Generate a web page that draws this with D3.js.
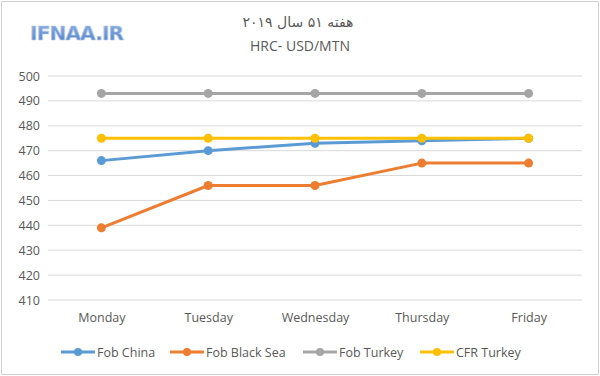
<!DOCTYPE html>
<html>
<head>
<meta charset="utf-8">
<script src="https://cdn.jsdelivr.net/npm/d3@7"></script>
<style>
  body { margin: 0; background: #fff; }
  svg text { font-family: "Open Sans", "DejaVu Sans", sans-serif; fill: #595959; }
</style>
</head>
<body>
<div id="chart"></div>
<script>
const WIDTH = 600
const HEIGHT = 376

const days = ['Monday', 'Tuesday', 'Wednesday', 'Thursday', 'Friday']
const yTicks = [410, 420, 430, 440, 450, 460, 470, 480, 490, 500]
const seriesNames = ['Fob China', 'Fob Black Sea', 'Fob Turkey', 'CFR Turkey']
const seriesColors = ['#5b9bd5', '#ed7d31', '#a5a5a5', '#ffc000']
const fobChina = [466, 470, 473, 474, 475]
const fobBlackSea = [439, 456, 456, 465, 465]
const fobTurkey = [493, 493, 493, 493, 493]
const cfrTurkey = [475, 475, 475, 475, 475]

const seriesValues = [fobChina, fobBlackSea, fobTurkey, cfrTurkey]
const series = seriesNames.map((name, i) => ({ name, color: seriesColors[i], values: seriesValues[i] }))

const svg = d3.select('#chart')
  .append('svg')
  .attr('width', WIDTH)
  .attr('height', HEIGHT)

// logo gradient
const grad = svg.append('defs')
  .append('linearGradient')
  .attr('id', 'logoGrad')
  .attr('x1', 0).attr('y1', 0).attr('x2', 0).attr('y2', 1)
grad.append('stop').attr('offset', '0%').attr('stop-color', '#8fb3e6')
grad.append('stop').attr('offset', '100%').attr('stop-color', '#4f7fc4')

// outer frame
svg.append('rect')
  .attr('x', 1.5).attr('y', 1.5)
  .attr('width', WIDTH - 3).attr('height', HEIGHT - 3)
  .attr('fill', '#fff')
  .attr('stroke', '#d0d0d0')

const x = d3.scalePoint()
  .domain(days)
  .range([48, 582])
  .padding(0.5)

const y = d3.scaleLinear()
  .domain([410, 500])
  .range([300, 76])

// gridlines
svg.append('g')
  .selectAll('line')
  .data(yTicks)
  .enter()
  .append('line')
  .attr('x1', 48).attr('x2', 582)
  .attr('y1', d => y(d)).attr('y2', d => y(d))
  .attr('stroke', '#d9d9d9')
  .attr('stroke-width', 1)

// y axis labels
const yAxis = svg.append('g')
  .attr('transform', 'translate(40,0)')
  .call(d3.axisLeft(y).tickValues(yTicks).tickSize(0).tickPadding(0))
yAxis.select('.domain').remove()
yAxis.selectAll('text')
  .attr('font-size', 12.5)
  .style('font-family', '"Open Sans", sans-serif')
  .attr('fill', '#595959')

// x axis labels
const xAxis = svg.append('g')
  .attr('transform', 'translate(0,310)')
  .call(d3.axisBottom(x).tickSize(0).tickPadding(3))
xAxis.select('.domain').remove()
xAxis.selectAll('text')
  .attr('font-size', 12.5)
  .style('font-family', '"Open Sans", sans-serif')
  .attr('fill', '#595959')

const line = d3.line()
  .x((d, i) => x(days[i]))
  .y(d => y(d))

const gSeries = svg.selectAll('.series')
  .data(series)
  .enter()
  .append('g')
  .attr('class', 'series')

gSeries.append('path')
  .attr('d', d => line(d.values))
  .attr('fill', 'none')
  .attr('stroke', d => d.color)
  .attr('stroke-width', 3)
  .attr('stroke-linejoin', 'round')

gSeries.selectAll('circle')
  .data(d => d.values.map(v => ({ v, color: d.color })))
  .enter()
  .append('circle')
  .attr('cx', (d, i) => x(days[i]))
  .attr('cy', d => y(d.v))
  .attr('r', 4.5)
  .attr('fill', d => d.color)

// titles
svg.append('text')
  .attr('x', 298).attr('y', 27)
  .attr('text-anchor', 'middle')
  .attr('font-size', 14)
  .style('font-family', '"DejaVu Sans", sans-serif')
  .attr('fill', '#404040')
  .text('هفته ۵۱ سال ۲۰۱۹')

svg.append('text')
  .attr('x', 300).attr('y', 51)
  .attr('text-anchor', 'middle')
  .attr('font-size', 14)
  .attr('fill', '#404040')
  .text('HRC- USD/MTN')

// logo
svg.append('text')
  .attr('x', 30).attr('y', 40)
  .attr('font-size', 20)
  .attr('font-weight', 'bold')
  .style('font-family', '"DejaVu Sans", sans-serif')
  .style('fill', 'url(#logoGrad)')
  .attr('stroke', '#b7c9e8')
  .attr('stroke-width', 0.7)
  .attr('textLength', 94)
  .text('IFNAA.IR')

// legend
const legendX = [61, 170, 303, 420]
const gLegend = svg.selectAll('.legend')
  .data(series)
  .enter()
  .append('g')
  .attr('class', 'legend')
  .attr('transform', (d, i) => `translate(${legendX[i]},352)`)
gLegend.append('line')
  .attr('x1', 0).attr('x2', 34)
  .attr('stroke', d => d.color)
  .attr('stroke-width', 3)
gLegend.append('circle')
  .attr('cx', 17).attr('r', 4)
  .attr('fill', d => d.color)
gLegend.append('text')
  .attr('x', 36).attr('y', 4.5)
  .attr('font-size', 12.5)
  .style('font-family', '"Open Sans", sans-serif')
  .text(d => d.name)
</script>
</body>
</html>
